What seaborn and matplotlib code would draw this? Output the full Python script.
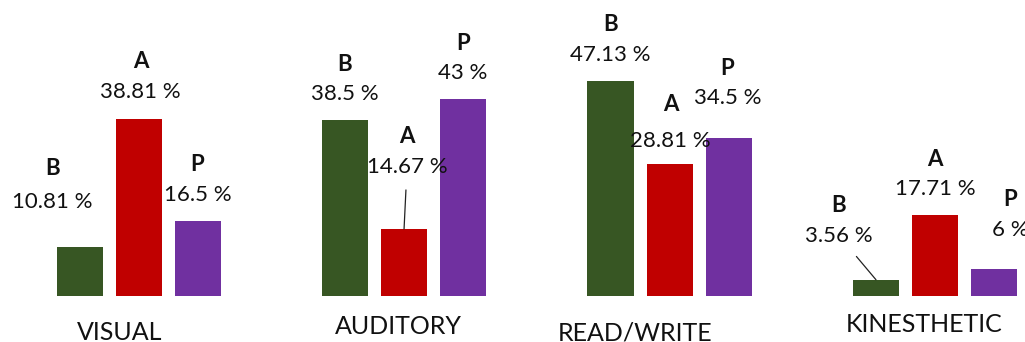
import matplotlib
matplotlib.use("Agg")
import matplotlib.pyplot as plt
import pandas as pd
import seaborn as sns

# Learning-style preference by group (percent)
styles = ["VISUAL", "AUDITORY", "READ/WRITE", "KINESTHETIC"]
groups = ["B", "A", "P"]
b_pct = [10.81, 38.5, 47.13, 3.56]
a_pct = [38.81, 14.67, 28.81, 17.71]
p_pct = [16.5, 43, 34.5, 6]

colors = {"B": "#375623", "A": "#C00000", "P": "#7030A0"}

# Label placement (pixels): value-label centre relative to bar top,
# and whether a leader line ties the label to its bar.
default_place = (0, 26)
label_place = {
    ("VISUAL", "B"): (-27, 45),
    ("VISUAL", "A"): (2, 27),
    ("AUDITORY", "A"): (3, 62),
    ("READ/WRITE", "A"): (1, 23),
    ("READ/WRITE", "P"): (-1, 40),
    ("KINESTHETIC", "B"): (-37, 44),
    ("KINESTHETIC", "P"): (16, 39),
}
letter_gap = {("READ/WRITE", "A"): 37, ("VISUAL", "B"): 33}
leaders = {("AUDITORY", "A"), ("KINESTHETIC", "B")}
# Category caption offsets (pixels) from the group centre at the baseline
caption_place = [(-19, -36), (-6, -30), (-34, -37), (-11, -29)]

df = pd.DataFrame({
    "style": styles * 3,
    "group": [g for g in groups for _ in styles],
    "pct": b_pct + a_pct + p_pct,
})

sns.set_theme(style="white")
plt.rcParams["font.family"] = ["Lato", "DejaVu Sans"]

W, H, DPI = 1025, 342, 100
fig = plt.figure(figsize=(W / DPI, H / DPI), dpi=DPI)
base_px = 46
px_per_unit = 4.57
ax = fig.add_axes([0, base_px / H, 1, 1 - base_px / H])

sns.barplot(data=df, x="style", y="pct", hue="group", order=styles,
            hue_order=groups, palette=colors, saturation=1, width=0.667,
            gap=0.22, legend=False, ax=ax, edgecolor="none")

ax.set_xlim(-0.522, 3.339)
ax.set_ylim(0, (H - base_px) / px_per_unit)
ax.axis("off")

txt_color = "#111111"
for g, cont in zip(groups, ax.containers):
    for style, bar in zip(styles, cont):
        xc = bar.get_x() + bar.get_width() / 2
        top = bar.get_height()
        dx, dy = label_place.get((style, g), default_place)
        gap = letter_gap.get((style, g), 30)
        arrow = None
        if (style, g) in leaders:
            arrow = dict(arrowstyle="-", color="#222222", lw=0.9,
                         shrinkA=7, shrinkB=0)
        ax.annotate(f"{top:g} %", xy=(xc, top), xytext=(dx, dy),
                    textcoords="offset pixels", ha="center", va="center",
                    fontsize=16, color=txt_color, arrowprops=arrow,
                    annotation_clip=False)
        ax.annotate(g, xy=(xc, top), xytext=(dx, dy + gap),
                    textcoords="offset pixels", ha="center", va="center",
                    fontsize=16, fontweight="bold", color=txt_color,
                    annotation_clip=False)

for i, (style, (cx, cy)) in enumerate(zip(styles, caption_place)):
    ax.annotate(style, xy=(i, 0), xytext=(cx, cy),
                textcoords="offset pixels", ha="center", va="center",
                fontsize=18, color=txt_color, annotation_clip=False)

fig.savefig("out.png", dpi=DPI, facecolor="white")
